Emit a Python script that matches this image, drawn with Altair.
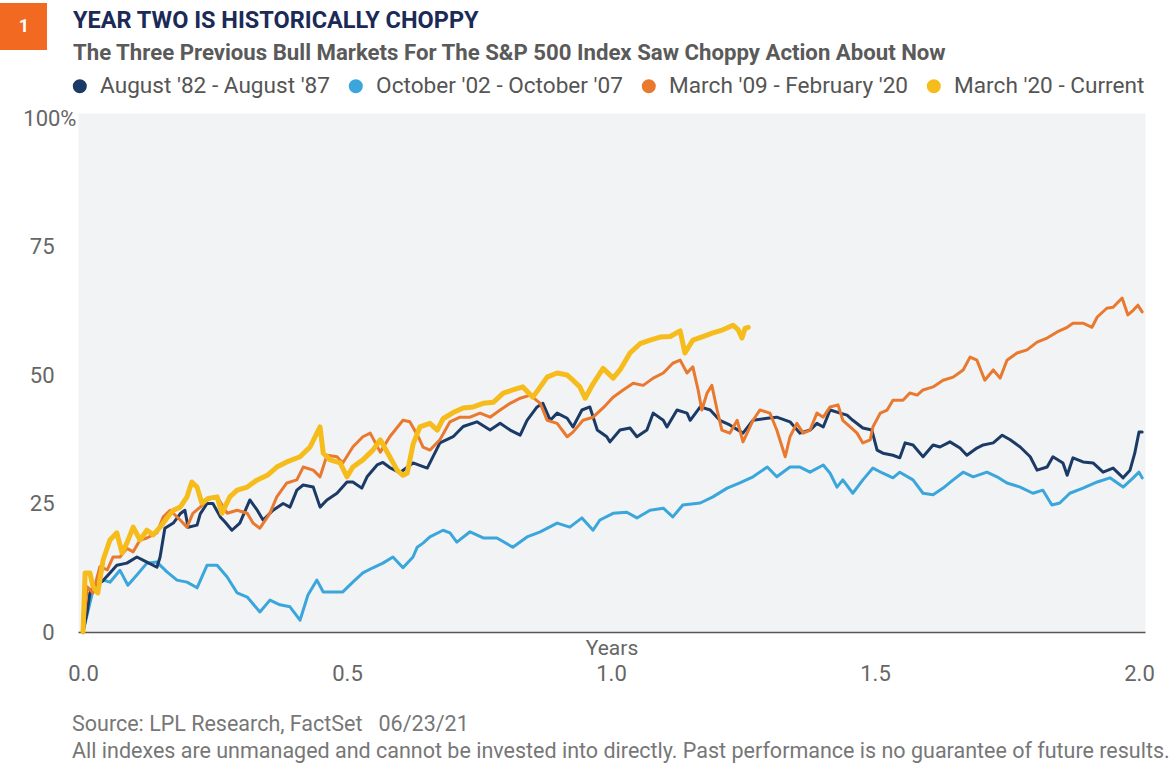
import altair as alt
import pandas as pd

FONT = "Roboto"

SERIES = ["August '82 - August '87", "October '02 - October '07",
          "March '09 - February '20", "March '20 - Current"]
COLORS = ["#1c3a66", "#3aa6dc", "#e9792e", "#f5bc1c"]

AUG82_YEARS = [0, 0.008, 0.013, 0.019, 0.038, 0.051, 0.064, 0.083, 0.102, 0.121, 0.140, 0.146,
               0.155, 0.171, 0.184, 0.193, 0.199, 0.216, 0.222, 0.235, 0.246, 0.260, 0.269, 0.282,
               0.297, 0.316, 0.330, 0.341, 0.360, 0.379, 0.392, 0.405, 0.417, 0.436, 0.449, 0.462,
               0.481, 0.500, 0.511, 0.528, 0.538, 0.557, 0.568, 0.581, 0.600, 0.625, 0.652, 0.676,
               0.701, 0.720, 0.746, 0.771, 0.790, 0.809, 0.828, 0.841, 0.860, 0.871, 0.885, 0.898,
               0.917, 0.928, 0.945, 0.960, 0.974, 0.992, 0.998, 1.017, 1.036, 1.049, 1.068, 1.080,
               1.099, 1.106, 1.125, 1.144, 1.150, 1.169, 1.188, 1.206, 1.225, 1.250, 1.269, 1.296,
               1.314, 1.339, 1.358, 1.377, 1.390, 1.402, 1.415, 1.434, 1.447, 1.458, 1.477, 1.494,
               1.504, 1.515, 1.534, 1.547, 1.557, 1.572, 1.591, 1.610, 1.623, 1.642, 1.661, 1.674,
               1.693, 1.705, 1.724, 1.741, 1.756, 1.775, 1.794, 1.807, 1.826, 1.837, 1.856, 1.864,
               1.875, 1.894, 1.913, 1.932, 1.951, 1.970, 1.983, 1.992, 2.000, 2.006]
AUG82_PCT = [0, 4.0, 7.6, 8.8, 10.0, 11.5, 13.0, 13.4, 14.6, 13.6, 12.6, 14.6,
             20.2, 21.2, 23.0, 23.7, 20.4, 20.8, 23.0, 25.0, 25.0, 22.4, 21.4, 19.8,
             21.2, 25.7, 23.7, 21.8, 23.7, 25.0, 24.3, 27.6, 28.6, 28.2, 24.3, 25.7,
             27.0, 29.2, 29.2, 28.0, 30.2, 32.5, 33.0, 32.0, 31.0, 32.9, 31.9, 36.8,
             38.0, 40.0, 40.9, 39.3, 40.6, 39.3, 38.3, 41.2, 43.8, 44.5, 41.2, 42.6,
             41.6, 39.9, 43.2, 43.8, 39.3, 38.0, 37.0, 39.3, 39.7, 38.0, 39.3, 42.6,
             41.2, 39.9, 43.2, 42.6, 41.2, 43.8, 43.2, 41.2, 40.3, 38.7, 41.2, 41.6,
             41.8, 40.9, 38.7, 39.3, 40.6, 39.9, 43.2, 42.6, 42.2, 41.2, 39.7, 39.3,
             35.4, 34.8, 34.4, 33.9, 36.8, 36.4, 34.1, 36.4, 36.0, 37.0, 35.8, 34.4,
             35.8, 36.4, 36.8, 38.3, 37.4, 36.0, 34.1, 31.5, 32.1, 34.1, 32.9, 30.5,
             33.9, 33.1, 32.9, 31.1, 31.9, 30.0, 31.5, 34.8, 38.9, 38.9]

OCT02_YEARS = [0, 0.019, 0.038, 0.051, 0.070, 0.085, 0.102, 0.121, 0.140, 0.159, 0.178, 0.197,
               0.216, 0.235, 0.254, 0.273, 0.292, 0.311, 0.335, 0.354, 0.373, 0.392, 0.411, 0.426,
               0.443, 0.455, 0.474, 0.492, 0.511, 0.530, 0.549, 0.568, 0.587, 0.606, 0.625, 0.633,
               0.644, 0.657, 0.682, 0.695, 0.708, 0.733, 0.758, 0.784, 0.814, 0.841, 0.866, 0.898,
               0.922, 0.945, 0.966, 0.979, 1.004, 1.030, 1.049, 1.074, 1.099, 1.117, 1.136, 1.169,
               1.193, 1.220, 1.244, 1.269, 1.296, 1.314, 1.339, 1.358, 1.377, 1.402, 1.415, 1.428,
               1.439, 1.458, 1.477, 1.496, 1.515, 1.534, 1.547, 1.572, 1.591, 1.610, 1.629, 1.648,
               1.667, 1.686, 1.712, 1.731, 1.750, 1.775, 1.799, 1.818, 1.835, 1.850, 1.869, 1.894,
               1.921, 1.945, 1.970, 1.989, 2.000, 2.006]
OCT02_PCT = [0, 8.2, 10.1, 9.7, 12.0, 9.1, 11.1, 13.4, 13.6, 11.7, 10.1, 9.7,
             8.6, 13.0, 13.0, 10.7, 7.6, 6.8, 3.9, 6.2, 5.3, 4.9, 2.3, 7.2,
             10.1, 7.8, 7.8, 7.8, 9.7, 11.5, 12.5, 13.4, 14.6, 12.5, 14.6, 16.5,
             17.3, 18.5, 19.8, 19.3, 17.5, 19.5, 18.3, 18.3, 16.5, 18.5, 19.5, 21.2,
             20.4, 22.2, 19.8, 21.8, 23.1, 23.3, 22.2, 23.7, 24.1, 22.4, 24.7, 25.1,
             26.3, 28.0, 29.0, 30.2, 32.1, 30.2, 32.1, 32.1, 31.1, 32.5, 30.9, 28.2,
             29.6, 27.0, 29.6, 31.9, 30.9, 30.0, 31.1, 29.6, 27.0, 26.7, 28.0, 29.6,
             31.1, 30.2, 31.1, 30.2, 29.0, 28.2, 27.0, 27.6, 24.7, 25.1, 27.0, 28.0,
             29.2, 30.0, 28.2, 30.0, 31.1, 30.0]

MAR09_YEARS = [0, 0.008, 0.019, 0.032, 0.046, 0.057, 0.070, 0.083, 0.095, 0.108, 0.121, 0.140,
               0.152, 0.165, 0.184, 0.197, 0.208, 0.222, 0.235, 0.254, 0.273, 0.292, 0.311, 0.322,
               0.335, 0.354, 0.367, 0.386, 0.405, 0.417, 0.436, 0.449, 0.462, 0.481, 0.492, 0.511,
               0.530, 0.544, 0.563, 0.581, 0.606, 0.619, 0.635, 0.644, 0.657, 0.676, 0.695, 0.714,
               0.733, 0.752, 0.771, 0.790, 0.809, 0.828, 0.847, 0.866, 0.879, 0.898, 0.917, 0.928,
               0.947, 0.966, 0.985, 1.004, 1.023, 1.042, 1.061, 1.080, 1.099, 1.117, 1.131, 1.144,
               1.155, 1.165, 1.172, 1.182, 1.191, 1.201, 1.210, 1.225, 1.239, 1.250, 1.269, 1.282,
               1.301, 1.314, 1.330, 1.339, 1.352, 1.364, 1.377, 1.390, 1.402, 1.415, 1.430, 1.439,
               1.453, 1.466, 1.477, 1.491, 1.496, 1.510, 1.523, 1.534, 1.553, 1.566, 1.580, 1.591,
               1.610, 1.629, 1.648, 1.667, 1.680, 1.693, 1.708, 1.724, 1.737, 1.750, 1.769, 1.788,
               1.807, 1.826, 1.845, 1.864, 1.875, 1.894, 1.911, 1.921, 1.939, 1.951, 1.968, 1.979,
               1.989, 1.998, 2.006]
MAR09_PCT = [0, 8.8, 7.6, 12.7, 12.1, 14.6, 14.6, 16.3, 15.6, 17.9, 18.3, 19.3,
             22.4, 23.7, 21.8, 20.4, 23.1, 24.3, 25.7, 26.3, 23.1, 23.7, 23.1, 21.2,
             20.2, 23.1, 26.3, 29.0, 29.6, 32.1, 31.5, 30.2, 34.4, 34.1, 32.9, 36.0,
             38.0, 38.7, 35.0, 38.0, 41.2, 40.9, 38.0, 36.0, 35.4, 37.4, 40.9, 41.8,
             41.8, 42.6, 41.8, 43.2, 44.5, 45.5, 46.1, 44.5, 41.2, 40.6, 38.0, 38.9,
             41.2, 41.8, 43.6, 45.7, 47.1, 48.4, 48.0, 49.4, 50.4, 52.3, 52.9, 50.4,
             51.6, 47.1, 43.2, 46.5, 48.0, 43.2, 39.3, 38.7, 41.2, 37.0, 41.2, 43.2,
             42.6, 39.3, 34.1, 38.0, 40.6, 38.7, 39.3, 42.6, 41.8, 43.8, 44.2, 41.2,
             39.9, 38.7, 36.8, 37.4, 39.9, 42.6, 43.2, 45.1, 45.1, 46.5, 46.1, 47.1,
             47.7, 49.0, 49.6, 51.0, 53.5, 52.9, 49.0, 51.0, 49.4, 52.9, 54.3, 54.9,
             56.4, 57.2, 58.4, 59.3, 60.1, 60.1, 59.3, 61.3, 63.0, 63.2, 65.0, 61.7,
             62.6, 63.6, 62.3]

MAR20_YEARS = [0, 0.004, 0.013, 0.019, 0.028, 0.038, 0.051, 0.064, 0.074, 0.083, 0.095, 0.108,
               0.121, 0.133, 0.146, 0.159, 0.171, 0.184, 0.197, 0.206, 0.216, 0.225, 0.237, 0.254,
               0.263, 0.278, 0.292, 0.311, 0.330, 0.349, 0.367, 0.386, 0.411, 0.430, 0.443, 0.449,
               0.455, 0.468, 0.487, 0.500, 0.511, 0.530, 0.549, 0.563, 0.581, 0.595, 0.606, 0.614,
               0.625, 0.638, 0.657, 0.671, 0.682, 0.701, 0.720, 0.739, 0.758, 0.777, 0.796, 0.814,
               0.833, 0.852, 0.866, 0.879, 0.898, 0.917, 0.928, 0.941, 0.951, 0.966, 0.985, 1.004,
               1.017, 1.036, 1.055, 1.074, 1.093, 1.112, 1.131, 1.140, 1.155, 1.174, 1.193, 1.212,
               1.231, 1.241, 1.248, 1.254, 1.260]
MAR20_PCT = [0, 11.5, 11.5, 8.8, 7.6, 14.0, 17.9, 19.3, 15.4, 17.3, 20.4, 17.9,
             19.8, 18.9, 20.4, 22.2, 23.7, 24.3, 26.3, 29.2, 28.2, 25.1, 26.0, 26.3,
             23.1, 26.3, 27.6, 28.2, 29.6, 30.5, 32.1, 33.1, 34.1, 36.0, 38.7, 39.9,
             34.8, 33.5, 32.9, 30.2, 32.1, 33.5, 35.4, 37.4, 34.1, 31.5, 30.5, 30.9,
             36.5, 39.9, 40.6, 39.3, 41.5, 42.7, 43.6, 43.8, 44.5, 44.7, 46.5, 47.1,
             47.7, 45.7, 47.7, 49.6, 50.4, 50.0, 49.0, 47.7, 45.5, 48.3, 51.3, 49.4,
             51.0, 54.3, 56.1, 56.8, 57.4, 57.5, 58.6, 54.3, 56.8, 57.5, 58.2, 58.8,
             59.7, 58.8, 57.2, 59.1, 59.3]

X_TICKS = [0, 0.5, 1.0, 1.5, 2.0]
Y_TICKS = [0, 25, 50, 75, 100]

TITLE = "YEAR TWO IS HISTORICALLY CHOPPY"
SUBTITLE = "The Three Previous Bull Markets For The S&P 500 Index Saw Choppy Action About Now"
SOURCE = "Source: LPL Research, FactSet \u00a0\u00a006/23/21"
DISCLAIMER = ("All indexes are unmanaged and cannot be invested into directly. "
              "Past performance is no guarantee of future results.")

x_scale = alt.Scale(domain=[-0.0095, 2.0114], nice=False, zero=False)
y_scale = alt.Scale(domain=[0, 101], nice=False)
c_scale = alt.Scale(domain=SERIES, range=COLORS)

x_axis = alt.Axis(values=X_TICKS, format=".1f", title="Years", titleFont=FONT,
                  titleFontSize=21, titleFontWeight="normal", titleColor="#666666",
                  titleY=16, titleBaseline="middle", labelFont=FONT, labelFontSize=22,
                  labelColor="#666666", labelPadding=31, ticks=False, tickSize=0, grid=False,
                  domainColor="#555555", domainWidth=1.5, labelFlush=False)
y_axis = alt.Axis(values=Y_TICKS, labelExpr="datum.value == 100 ? '100%' : datum.label",
                  title=None, domain=False, ticks=False, tickSize=0, grid=False,
                  labelFont=FONT, labelFontSize=22, labelColor="#666666",
                  labelPadding={"condition": {"test": "datum.value == 100", "value": 2}, "value": 24})
legend = alt.Legend(orient="none", legendX=-9.5, legendY=-38, direction="horizontal", title=None,
                    symbolType="circle", symbolSize=49, symbolStrokeWidth=7, symbolOpacity=1,
                    labelFont=FONT, labelFontSize=22.6, labelColor="#555555", labelOffset=9,
                    columnPadding=7, gridAlign="none", padding=0, labelLimit=500)


def line(name, xs, ys, width):
    df = pd.DataFrame({"years": xs, "pct": ys, "series": name})
    return alt.Chart(df).mark_line(strokeWidth=width, strokeJoin="round", strokeCap="round").encode(
        x=alt.X("years:Q", scale=x_scale, axis=x_axis),
        y=alt.Y("pct:Q", scale=y_scale, axis=y_axis),
        color=alt.Color("series:N", scale=c_scale, legend=legend),
    )


def text(s, x, y, size, weight="normal", color="#666666", align="left", baseline="alphabetic"):
    return alt.Chart(pd.DataFrame({"t": [s]})).mark_text(
        align=align, baseline=baseline, font=FONT, fontSize=size, fontWeight=weight, color=color
    ).encode(x=alt.value(x), y=alt.value(y), text="t:N")


badge = alt.Chart(pd.DataFrame({"b": [1]})).mark_rect(color="#f26a22").encode(
    x=alt.value(-78), x2=alt.value(-31), y=alt.value(-110), y2=alt.value(-63))

chart = alt.layer(
    line(SERIES[1], OCT02_YEARS, OCT02_PCT, 3),
    line(SERIES[0], AUG82_YEARS, AUG82_PCT, 3),
    line(SERIES[2], MAR09_YEARS, MAR09_PCT, 3),
    line(SERIES[3], MAR20_YEARS, MAR20_PCT, 5),
    badge,
    text("1", -54, -86, 18, weight="bold", color="white", align="center", baseline="middle"),
    text(TITLE, -5, -85, 23.5, weight="bold", color="#1b2a57"),
    text(SUBTITLE, -5, -53, 22.2, weight="bold", color="#5a5a5a"),
    text(SOURCE, -6, 618, 21.5, color="#777777"),
    text(DISCLAIMER, -6, 645, 21.5, color="#777777"),
).properties(
    width=1067, height=519,
    autosize=alt.AutoSizeParams(type="none"),
    padding={"left": 78, "top": 113, "right": 30, "bottom": 148},
    background="white",
).configure_view(fill="#f2f3f5", stroke="transparent")

chart.save("out.html", embed_options={"renderer": "svg", "actions": False})
